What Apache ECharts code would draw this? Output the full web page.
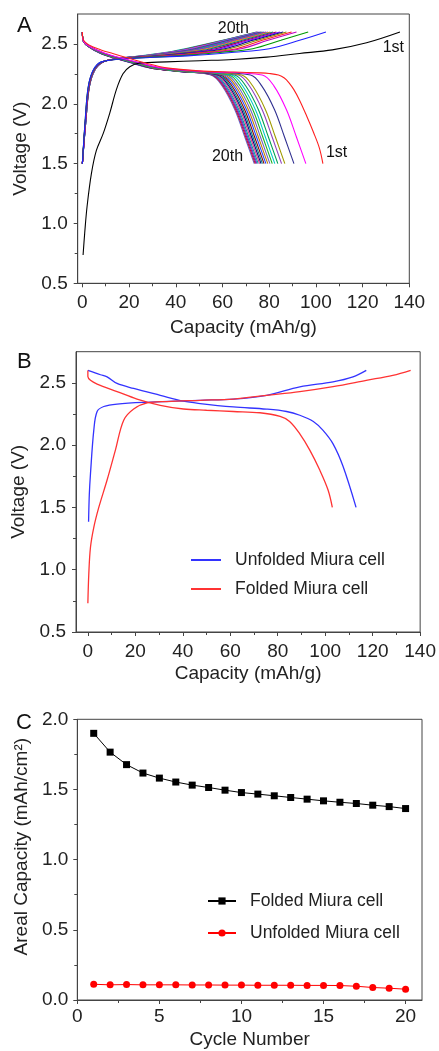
<!DOCTYPE html>
<html><head><meta charset="utf-8">
<script src="https://cdn.jsdelivr.net/npm/echarts@6/dist/echarts.min.js"></script>
<style>html,body{margin:0;padding:0;background:#fff}#c{width:439px;height:1051px}</style>
</head><body><div id="c"></div>
<script>
// ---------- Panel A : 20 charge / discharge cycles ----------
const cycle1ChargeA = [[0.3,0.737],[1,0.92],[2,1.14],[3.9,1.42],[6,1.61],[8.9,1.75],[11.7,1.92],[14.6,2.12],[17.4,2.25],[20.3,2.31],[24.6,2.34],[36,2.35],[50.3,2.36],[64.6,2.37],[78.9,2.39],[93,2.42],[107,2.45],[121.7,2.51],[136,2.6]];
const cycle1DischargeA = [[0,2.6],[0.3,2.54],[3,2.49],[8,2.45],[13,2.42],[20,2.38],[27,2.34],[36,2.30],[50,2.275],[65,2.265],[76,2.258],[80,2.253],[84,2.24],[86.5,2.215],[88.5,2.175],[90.5,2.12],[93,2.03],[96,1.9],[99,1.76],[101.5,1.63],[103,1.5]];
// voltage levels and capacity read at each level for cycles 2..20
const dischargeV = [2.6,2.53,2.48,2.42,2.38,2.34,2.30,2.27,2.24,2.15,1.95,1.72,1.5];
const dischargeCap = [
 [0,0.3,3.0,10,17,25,34,52,77,82,87.4,91.7,95.7],
 [0,0.3,3.0,9.5,16.5,24.5,33,49,72,76.8,82.3,86.6,90.6],
 [0,0.3,2.9,9.3,16,24,32.5,47,68.2,72.9,78.4,82.7,86.7],
 [0,0.3,2.9,9.2,16,24,32,46,66.8,71.5,77,81.3,85.3],
 [0,0.3,2.8,9,15.5,23.5,31.5,45,65.2,69.9,75.4,79.7,83.7],
 [0,0.3,2.8,9,15.5,23.5,31.5,45,63.9,68.6,74.1,78.4,82.4],
 [0,0.3,2.8,8.9,15.3,23,31,44,62.8,67.5,73,77.3,81.3],
 [0,0.3,2.7,8.8,15.2,23,31,44,61.8,66.5,72,76.3,80.3],
 [0,0.3,2.7,8.7,15,23,30.5,43.5,60.9,65.6,71.1,75.4,79.4],
 [0,0.3,2.7,8.6,15,22.5,30.5,43.5,60.1,64.8,70.3,74.6,78.6],
 [0,0.3,2.6,8.5,14.8,22.5,30,43,59.3,64,69.5,73.8,77.8],
 [0,0.3,2.6,8.4,14.7,22.5,30,43,58.6,63.3,68.8,73.1,77.1],
 [0,0.3,2.6,8.3,14.6,22,30,42.5,58,62.7,68.2,72.5,76.5],
 [0,0.3,2.5,8.2,14.5,22,29.5,42.5,57.4,62.1,67.6,71.9,75.9],
 [0,0.3,2.5,8.1,14.4,22,29.5,42,56.8,61.5,67,71.3,75.3],
 [0,0.3,2.5,8,14.3,21.5,29.5,42,56.3,61,66.5,70.8,74.8],
 [0,0.3,2.4,8,14.2,21.5,29,41.5,55.9,60.6,66.1,70.4,74.4],
 [0,0.3,2.4,7.9,14.1,21.5,29,41.5,55.5,60.2,65.7,70,74],
 [0,0.3,2.4,7.8,14,21,29,41,55.1,59.8,65.3,69.6,73.6]
];
const chargeV = [1.5,1.86,2.14,2.28,2.35,2.38,2.40,2.43,2.46,2.53,2.6];
const chargeCap = [
 [0,1.2,2.5,4.6,8.2,22,45,65,80,93,104.3],
 [0,1.2,2.5,4.7,8.3,21,41,60,73,85,96.7],
 [0,1.3,2.6,4.8,8.4,20,38,56,68,79.5,91.7],
 [0,1.3,2.6,4.8,8.4,19.5,36,54,66,77,89.6],
 [0,1.3,2.7,4.9,8.5,19,35,52,63,75,87.4],
 [0,1.3,2.7,4.9,8.5,18.5,34,50,61,73,86],
 [0,1.4,2.7,5,8.6,18,33,48.5,59,71.5,84.6],
 [0,1.4,2.8,5,8.6,18,32,47,57,70,83.1],
 [0,1.4,2.8,5,8.7,17.5,31,45.5,55,68.5,81.7],
 [0,1.4,2.8,5.1,8.7,17.5,30,44,53.5,67,80.5],
 [0,1.4,2.8,5.1,8.7,17,29,43,52,66,79.5],
 [0,1.4,2.9,5.1,8.8,17,28.5,42,51,65,78.6],
 [0,1.5,2.9,5.2,8.8,17,28,41,50,64,77.8],
 [0,1.5,2.9,5.2,8.8,16.5,27.5,40,49,63,77.1],
 [0,1.5,2.9,5.2,8.9,16.5,27,39,48,62.5,76.5],
 [0,1.5,2.9,5.2,8.9,16.5,26.5,38,47,62,75.9],
 [0,1.5,3,5.3,8.9,16,26,37.5,46,61,75.4],
 [0,1.5,3,5.3,9,16,25.5,37,45,60.5,75],
 [0,1.5,3,5.3,9,16,25,36,44,60,74.6]
];
const chargeColors = ['#000000','#2020ff','#009a00','#c000c0','#ff2020','#8a8a00','#0000a0','#8000ff','#a00050','#008080','#ff8000','#4169e1','#e0007f','#00b0b0','#6a0dad','#2e8b57','#ff00ff','#1e90ff','#b22222','#00b0a0'];
const dischargeColors = ['#ff2020','#ff00ff','#303090','#a09a00','#9040c0','#00a050','#00c8c8','#20b020','#7060c0','#c08000','#2040ff','#800000','#008080','#000080','#e03080','#00a0a0','#5050c0','#a000a0','#c02020','#6060d0'];
const annotationsA = [
 {text:'20th', cap:58, v:2.625},
 {text:'1st', cap:128.6, v:2.467},
 {text:'20th', cap:55.5, v:1.555},
 {text:'1st', cap:104.3, v:1.589}
];

// ---------- Panel B ----------
const unfoldedDischargeB = [[0,2.6],[5.3,2.565],[8.1,2.548],[12.3,2.495],[19.3,2.455],[30.5,2.40],[40.3,2.353],[47.3,2.334],[61.3,2.307],[75.3,2.289],[83.7,2.27],[89.3,2.24],[95,2.19],[99,2.12],[103.3,2.01],[107.5,1.83],[113,1.5]];
const unfoldedChargeB = [[0.3,1.385],[0.6,1.6],[1.1,1.77],[2.5,2.12],[3.9,2.27],[6.7,2.31],[12.3,2.33],[26.3,2.345],[47.3,2.36],[61.3,2.37],[75.3,2.40],[89.3,2.468],[103.3,2.508],[111.7,2.548],[117.3,2.6]];
const foldedDischargeB = [[0,2.6],[0,2.55],[1.1,2.52],[3.9,2.49],[12.3,2.43],[20.7,2.37],[30.5,2.32],[40.3,2.29],[50,2.28],[61.3,2.27],[72.5,2.26],[81,2.23],[85,2.19],[89.3,2.09],[93.5,1.96],[97.7,1.80],[101.2,1.64],[103,1.5]];
const foldedChargeB = [[0,0.73],[0.4,0.97],[1.1,1.18],[2.5,1.34],[4.6,1.5],[8.1,1.72],[11.6,1.96],[15.1,2.2],[19.3,2.29],[25,2.34],[33.3,2.35],[47.3,2.36],[61.3,2.37],[75.3,2.40],[89.3,2.43],[103.3,2.47],[117.3,2.52],[128.5,2.56],[136,2.6]];

// ---------- Panel C ----------
const cycleNumbers = [1,2,3,4,5,6,7,8,9,10,11,12,13,14,15,16,17,18,19,20];
const foldedArealC = [1.90,1.766,1.677,1.617,1.581,1.553,1.531,1.514,1.495,1.478,1.467,1.455,1.443,1.431,1.419,1.409,1.400,1.388,1.378,1.364];
const unfoldedArealC = [0.112,0.108,0.110,0.108,0.108,0.108,0.107,0.107,0.106,0.106,0.105,0.105,0.105,0.104,0.104,0.103,0.098,0.089,0.084,0.077];

// ---------- tick labels ----------
const capTicks = [0,20,40,60,80,100,120,140];
const capMinorTicks = [10,30,50,70,90,110,130];
const voltTicks = [0.5,1.0,1.5,2.0,2.5];
const voltMinorTicks = [0.75,1.25,1.75,2.25];
const cycleTicks = [0,5,10,15,20];
const cycleMinorTicks = [2.5,7.5,12.5,17.5];
const arealTicks = [0,0.5,1.0,1.5,2.0];
const arealMinorTicks = [0.25,0.75,1.25,1.75];

const FONT = 'Liberation Sans, Arial, sans-serif';
const AX = '#444';
const TXT = '#222';

function mainAxis(gridIndex, min, max, ticks, fmt, name, nameGap, isY, labelMargin, namePad) {
  return {
    type:'value', gridIndex, min, max, position: isY ? 'left' : 'bottom',
    name, nameLocation:'middle', nameGap,
    nameTextStyle:{fontFamily:FONT, fontSize:19, color:TXT, padding: namePad || 0},
    axisLine:{show:true, onZero:false, lineStyle:{color:AX, width:1}},
    axisTick:{show:true, inside:false, length:4, customValues:ticks, lineStyle:{color:AX}},
    axisLabel:{show:true, customValues:ticks, formatter:fmt, margin:labelMargin, fontFamily:FONT, fontSize:19, color:TXT},
    splitLine:{show:false}
  };
}
function minorAxis(gridIndex, min, max, ticks, isY) {
  return {
    type:'value', gridIndex, min, max, position: isY ? 'left' : 'bottom',
    axisLine:{show:false, onZero:false},
    axisTick:{show:true, inside:false, length:3, customValues:ticks, lineStyle:{color:AX}},
    axisLabel:{show:false}, splitLine:{show:false}
  };
}
const f0 = v => String(v);
const f1 = v => Number(v).toFixed(1);

const series = [];
// Panel A series
for (let i = 18; i >= 0; i--) {
  series.push({type:'line', name:'A charge '+(i+2), xAxisIndex:0, yAxisIndex:0, showSymbol:false, symbol:'none', smooth:0.35,
    lineStyle:{width:1.1, color:chargeColors[i+1]}, data: chargeCap[i].map((c,j)=>[c, chargeV[j]])});
  series.push({type:'line', name:'A discharge '+(i+2), xAxisIndex:0, yAxisIndex:0, showSymbol:false, symbol:'none', smooth:0.35,
    lineStyle:{width:1.1, color:dischargeColors[i+1]}, data: dischargeCap[i].map((c,j)=>[c, dischargeV[j]])});
}
series.push({type:'line', name:'A charge 1', xAxisIndex:0, yAxisIndex:0, showSymbol:false, symbol:'none', smooth:0.35, lineStyle:{width:1.1, color:chargeColors[0]}, data:cycle1ChargeA});
series.push({type:'line', name:'A discharge 1', xAxisIndex:0, yAxisIndex:0, showSymbol:false, symbol:'none', smooth:0.35, lineStyle:{width:1.1, color:dischargeColors[0]}, data:cycle1DischargeA});
// Panel B
series.push({type:'line', name:'B:Unfolded Miura cell', xAxisIndex:2, yAxisIndex:2, showSymbol:false, symbol:'none', smooth:0.35, lineStyle:{width:1.3, color:'#3333ff'}, itemStyle:{color:'#3333ff'}, data:unfoldedDischargeB});
series.push({type:'line', name:'B:Unfolded Miura cell', xAxisIndex:2, yAxisIndex:2, showSymbol:false, symbol:'none', smooth:0.35, lineStyle:{width:1.3, color:'#3333ff'}, itemStyle:{color:'#3333ff'}, data:unfoldedChargeB});
series.push({type:'line', name:'B:Folded Miura cell', xAxisIndex:2, yAxisIndex:2, showSymbol:false, symbol:'none', smooth:0.35, lineStyle:{width:1.3, color:'#ff3333'}, itemStyle:{color:'#ff3333'}, data:foldedDischargeB});
series.push({type:'line', name:'B:Folded Miura cell', xAxisIndex:2, yAxisIndex:2, showSymbol:false, symbol:'none', smooth:0.35, lineStyle:{width:1.3, color:'#ff3333'}, itemStyle:{color:'#ff3333'}, data:foldedChargeB});
// Panel C
series.push({type:'line', name:'C:Folded Miura cell', xAxisIndex:4, yAxisIndex:4, symbol:'rect', symbolSize:7, showSymbol:true,
  lineStyle:{width:1, color:'#000'}, itemStyle:{color:'#000'}, data: cycleNumbers.map((c,i)=>[c, foldedArealC[i]])});
series.push({type:'line', name:'C:Unfolded Miura cell', xAxisIndex:4, yAxisIndex:4, symbol:'circle', symbolSize:7, showSymbol:true,
  lineStyle:{width:1, color:'#ff0000'}, itemStyle:{color:'#ff0000'}, data: cycleNumbers.map((c,i)=>[c, unfoldedArealC[i]])});

const legendText = {fontFamily:FONT, fontSize:17.5, color:TXT, padding:[0,0,0,9], lineHeight:18};
const option = {
  animation:false,
  backgroundColor:'#fff',
  grid:[
    {left:77.7, right:29.7, top:14, height:269.3, show:true, borderColor:AX, borderWidth:1},
    {left:76, right:18.3, top:351.7, height:280.3, show:true, borderColor:AX, borderWidth:1},
    {left:77.3, right:17, top:719.3, height:280.7, show:true, borderColor:AX, borderWidth:1}
  ],
  xAxis:[
    mainAxis(0,-2,140,capTicks,f0,'Capacity (mAh/g)',35,false,10),
    minorAxis(0,-2,140,capMinorTicks,false),
    mainAxis(1,-5,140,capTicks,f0,'Capacity (mAh/g)',32,false,10),
    minorAxis(1,-5,140,capMinorTicks,false),
    mainAxis(2,0,21,cycleTicks,f0,'Cycle Number',30,false,7),
    minorAxis(2,0,21,cycleMinorTicks,false)
  ],
  yAxis:[
    mainAxis(0,0.5,2.75,voltTicks,f1,'Voltage (V)',43,true,10),
    minorAxis(0,0.5,2.75,voltMinorTicks,true),
    mainAxis(1,0.5,2.75,voltTicks,f1,'Voltage (V)',42,true,10),
    minorAxis(1,0.5,2.75,voltMinorTicks,true),
    mainAxis(2,0,2,arealTicks,f1,'Areal Capacity (mAh/cm²)',39,true,9,[0,0,0,26]),
    minorAxis(2,0,2,arealMinorTicks,true)
  ],
  legend:[
    {orient:'vertical', left:186, top:546, itemWidth:30, itemHeight:2, itemGap:11, textStyle:legendText,
     data:[{name:'B:Unfolded Miura cell', icon:'rect'},{name:'B:Folded Miura cell', icon:'rect'}],
     formatter:n=>n.replace(/^.:/,''), selectedMode:false},
    {orient:'vertical', left:202, top:887, itemWidth:28, itemHeight:9, itemGap:14, textStyle:legendText,
     data:['C:Folded Miura cell','C:Unfolded Miura cell'], formatter:n=>n.replace(/^.:/,''), selectedMode:false}
  ],
  series
};
const chart = echarts.init(document.getElementById('c'), null, {renderer:'canvas'});
chart.setOption(option);

const graphics = [
  {type:'text', left:17, top:15, style:{text:'A', font:'22px '+FONT, fill:'#111'}},
  {type:'text', left:17, top:351, style:{text:'B', font:'22px '+FONT, fill:'#111'}},
  {type:'text', left:16, top:712, style:{text:'C', font:'22px '+FONT, fill:'#111'}}
];
annotationsA.forEach(a => {
  const p = chart.convertToPixel({xAxisIndex:0, yAxisIndex:0}, [a.cap, a.v]);
  graphics.push({type:'text', x:p[0], y:p[1], style:{text:a.text, font:'16px '+FONT, fill:'#111', verticalAlign:'middle', align:'left'}});
});
chart.setOption({graphic:graphics});
</script></body></html>
